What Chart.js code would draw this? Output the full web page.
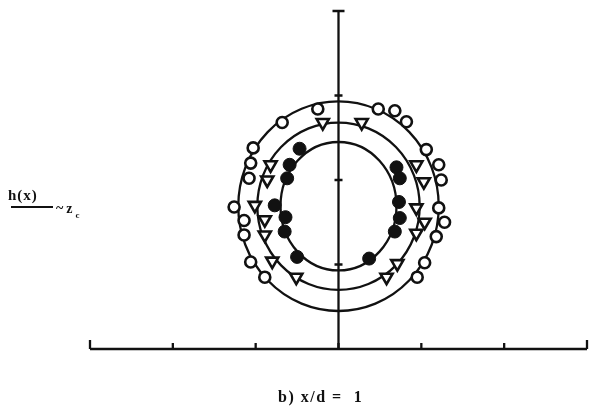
<!DOCTYPE html>
<html>
<head>
<meta charset="utf-8">
<script src="https://cdn.jsdelivr.net/npm/chart.js@4/dist/chart.umd.min.js"></script>
<style>
  html, body { margin: 0; padding: 0; background: #fff; }
  #wrap { position: relative; width: 597px; height: 414px; }
  #plot { position: absolute; left: 0; top: 0; }
  .lbl { position: absolute; font-family: "Liberation Serif", "DejaVu Serif", serif; font-weight: bold; color: #111; white-space: pre; line-height: 1; }
  #ylab { left: 8px; top: 188px; font-size: 15px; letter-spacing: 1px; }
  #ybar { position: absolute; left: 11px; top: 206px; width: 42px; height: 2px; background: #111; }
  #yden { left: 56px; top: 202px; font-size: 14px; letter-spacing: 3px; }
  #yden sub { font-size: 9px; vertical-align: -5px; }
  #cap { left: 278px; top: 389px; font-size: 16px; letter-spacing: 1.5px; }
</style>
</head>
<body>
<div id="wrap">
  <canvas id="plot" width="597" height="414"></canvas>
  <div class="lbl" id="ylab">h(x)</div>
  <div id="ybar"></div>
  <div class="lbl" id="yden">~z<sub>c</sub></div>
  <div class="lbl" id="cap">b) x/d =  1</div>
</div>
<script>
// axis ticks
const xTicks = [-3, -2, -1, 0, 1, 2, 3];
const yTicks = [1, 2, 3, 4];

// open circles
const openX = [-0.25, -0.68, -1.03, -1.06, -1.08, -1.26, -1.14, -1.14, -1.06, -0.89,
               0.48, 0.68, 0.82, 1.06, 1.21, 1.24, 1.21, 1.28, 1.18, 1.04, 0.95];
const openY = [2.84, 2.68, 2.38, 2.20, 2.02, 1.68, 1.52, 1.35, 1.03, 0.85,
               2.84, 2.82, 2.69, 2.36, 2.18, 2.00, 1.67, 1.50, 1.33, 1.02, 0.85];

// triangles
const triX = [-0.19, -0.82, -0.86, -1.01, -0.89, -0.89, -0.80, -0.51,
              0.28, 0.94, 1.03, 0.94, 1.04, 0.94, 0.71, 0.58];
const triY = [2.68, 2.18, 2.00, 1.70, 1.53, 1.35, 1.04, 0.85,
              2.68, 2.18, 1.98, 1.67, 1.50, 1.37, 1.01, 0.85];

// filled circles
const dotX = [-0.47, -0.59, -0.62, -0.77, -0.64, -0.65, -0.50,
              0.70, 0.74, 0.73, 0.74, 0.68, 0.37];
const dotY = [2.37, 2.18, 2.02, 1.70, 1.56, 1.39, 1.09,
              2.15, 2.02, 1.74, 1.55, 1.39, 1.07];

// fitted contours: common centre, one radius pair per ring
const ringCx = 0;
const ringCy = 1.69;
const ringRx = [1.21, 0.98, 0.70];
const ringRy = [1.24, 0.99, 0.76];

const ink = '#111';

function toPoints(xs, ys) {
    return xs.map((x, i) => ({ x: x, y: ys[i] }));
}

// rings + axes drawn under the markers
const figurePlugin = {
    id: 'figure',
    beforeDatasetsDraw(chart) {
        const { ctx, scales: { x, y } } = chart;
        ctx.save();
        ctx.strokeStyle = ink;
        ctx.lineWidth = 2.3;

        // rings
        const cx = x.getPixelForValue(ringCx);
        const cy = y.getPixelForValue(ringCy);
        ringRx.forEach((rx, i) => {
            const rpx = x.getPixelForValue(ringCx + rx) - cx;
            const rpy = cy - y.getPixelForValue(ringCy + ringRy[i]);
            ctx.beginPath();
            ctx.ellipse(cx, cy, rpx, rpy, 0, 0, Math.PI * 2);
            ctx.stroke();
        });

        // horizontal axis with upward ticks
        const y0 = y.getPixelForValue(0);
        ctx.beginPath();
        ctx.moveTo(x.getPixelForValue(-3), y0);
        ctx.lineTo(x.getPixelForValue(3), y0);
        xTicks.forEach(t => {
            const px = x.getPixelForValue(t);
            const len = (t === -3 || t === 3) ? 9 : 6;
            ctx.moveTo(px, y0);
            ctx.lineTo(px, y0 - len);
        });
        ctx.stroke();

        // vertical axis with cross ticks
        const x0 = x.getPixelForValue(0);
        ctx.beginPath();
        ctx.moveTo(x0, y0);
        ctx.lineTo(x0, y.getPixelForValue(4));
        yTicks.forEach(t => {
            const py = y.getPixelForValue(t);
            const half = t === 4 ? 6 : 4;
            ctx.moveTo(x0 - half, py);
            ctx.lineTo(x0 + half, py);
        });
        ctx.stroke();
        ctx.restore();
    }
};

new Chart(document.getElementById('plot'), {
    type: 'scatter',
    data: {
        datasets: [{
            label: 'open',
            data: toPoints(openX, openY),
            pointStyle: 'circle',
            pointRadius: 5.5,
            borderWidth: 2.6,
            borderColor: ink,
            backgroundColor: '#fff'
        }, {
            label: 'triangle',
            data: toPoints(triX, triY),
            pointStyle: 'triangle',
            rotation: 180,
            pointRadius: 7,
            borderWidth: 2.6,
            borderColor: ink,
            backgroundColor: '#fff'
        }, {
            label: 'filled',
            data: toPoints(dotX, dotY),
            pointStyle: 'circle',
            pointRadius: 6.5,
            borderWidth: 1,
            borderColor: ink,
            backgroundColor: ink
        }]
    },
    options: {
        responsive: false,
        animation: false,
        layout: {
            padding: { left: 90, right: 10, top: 11, bottom: 65 }
        },
        scales: {
            x: { type: 'linear', min: -3, max: 3, display: false },
            y: { type: 'linear', min: 0, max: 4, display: false }
        },
        plugins: {
            legend: { display: false },
            tooltip: { enabled: false }
        }
    },
    plugins: [figurePlugin]
});
</script>
</body>
</html>
